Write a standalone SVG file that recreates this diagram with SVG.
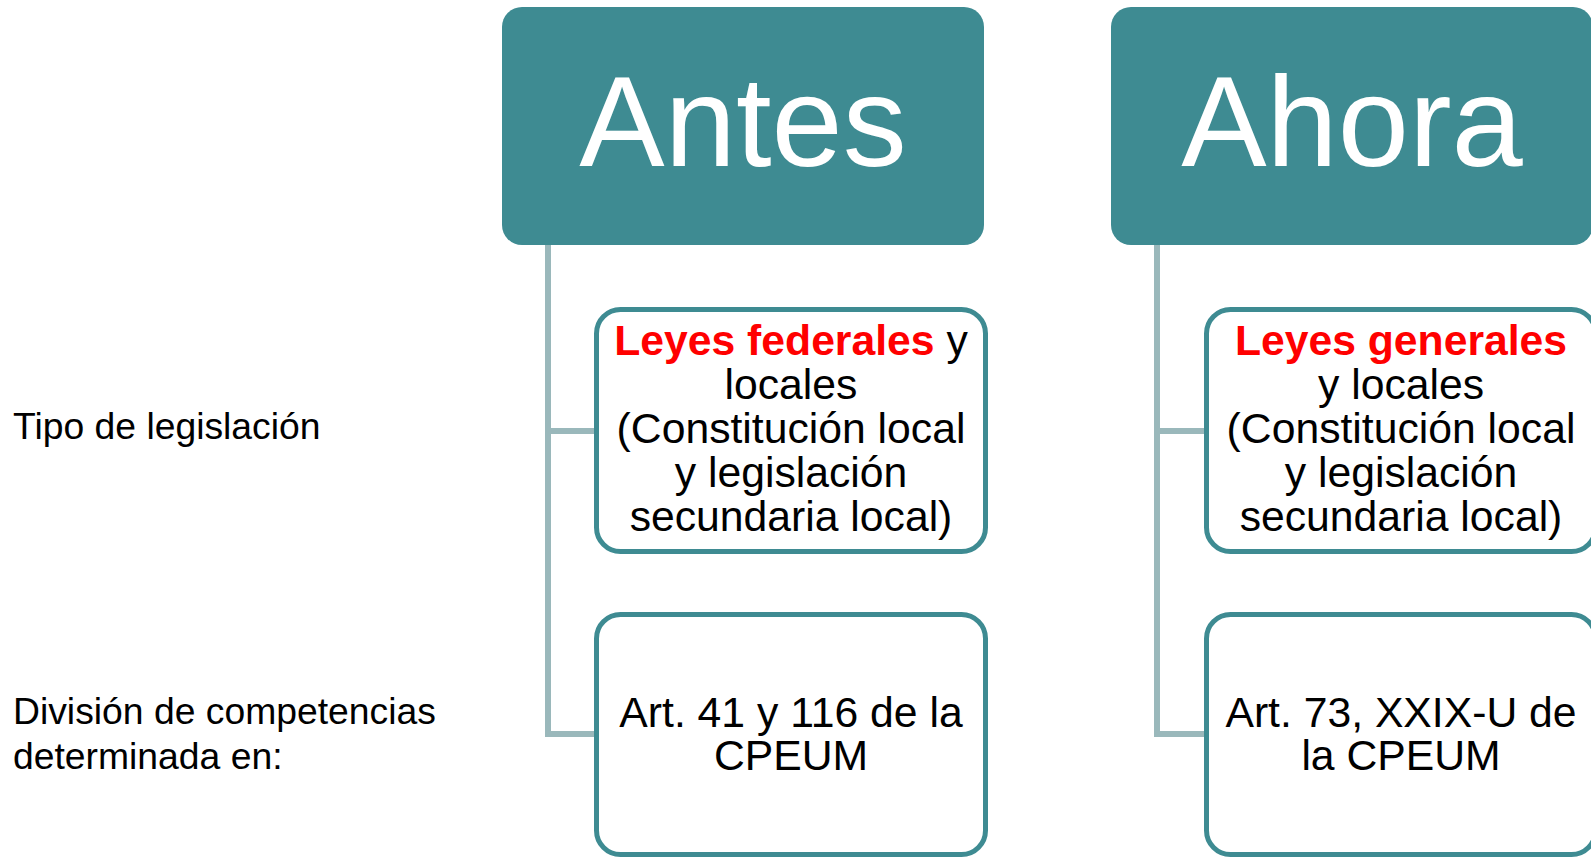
<svg xmlns="http://www.w3.org/2000/svg" width="1591" height="857" viewBox="0 0 1591 857">
<style>
.head{fill:#3E8B92}
.headtxt{font-family:"Liberation Sans",Arial,sans-serif;font-size:128px;fill:#fff;text-anchor:middle}
.box{fill:#fff;stroke:#3E8B92;stroke-width:5}
.txt{font-family:"Liberation Sans",Arial,sans-serif;font-size:42.7px;fill:#000;text-anchor:middle}
.red{fill:#FF0000;font-weight:bold}
.lbl{font-family:"Liberation Sans",Arial,sans-serif;font-size:37.3px;fill:#000}
.conn{fill:none;stroke:#9AB8BB;stroke-width:6}
</style>
<rect width="1591" height="857" fill="#fff"/>
<g id="connectors">
<path class="conn" d="M548,245 V734 H597 M548,431 H597"/>
<path class="conn" d="M1157,245 V734 H1207 M1157,431 H1207"/>
</g>
<g id="labels">
<text class="lbl" x="13" y="439">Tipo de legislación</text>
<text class="lbl" x="13" y="724">División de competencias</text>
<text class="lbl" x="13" y="769">determinada en:</text>
</g>
<g id="antes">
<rect class="head" x="502" y="7" width="482" height="238" rx="20"/>
<text class="headtxt" x="743" y="166">Antes</text>
</g>
<g id="ahora">
<rect class="head" x="1111" y="7" width="482" height="238" rx="20"/>
<text class="headtxt" x="1352" y="166">Ahora</text>
</g>
<g id="antes-tipo">
<rect class="box" x="596.5" y="309.5" width="389" height="242" rx="24"/>
<text class="txt" x="791" y="355"><tspan class="red">Leyes federales</tspan> y</text>
<text class="txt" x="791" y="399">locales</text>
<text class="txt" x="791" y="443">(Constitución local</text>
<text class="txt" x="791" y="487">y legislación</text>
<text class="txt" x="791" y="531">secundaria local)</text>
</g>
<g id="antes-division">
<rect class="box" x="596.5" y="614.5" width="389" height="240" rx="24"/>
<text class="txt" x="791" y="727">Art. 41 y 116 de la</text>
<text class="txt" x="791" y="770">CPEUM</text>
</g>
<g id="ahora-tipo">
<rect class="box" x="1206.5" y="309.5" width="389" height="242" rx="24"/>
<text class="txt" x="1401" y="355"><tspan class="red">Leyes generales</tspan></text>
<text class="txt" x="1401" y="399">y locales</text>
<text class="txt" x="1401" y="443">(Constitución local</text>
<text class="txt" x="1401" y="487">y legislación</text>
<text class="txt" x="1401" y="531">secundaria local)</text>
</g>
<g id="ahora-division">
<rect class="box" x="1206.5" y="614.5" width="389" height="240" rx="24"/>
<text class="txt" x="1401" y="727">Art. 73, XXIX-U de</text>
<text class="txt" x="1401" y="770">la CPEUM</text>
</g>
</svg>
